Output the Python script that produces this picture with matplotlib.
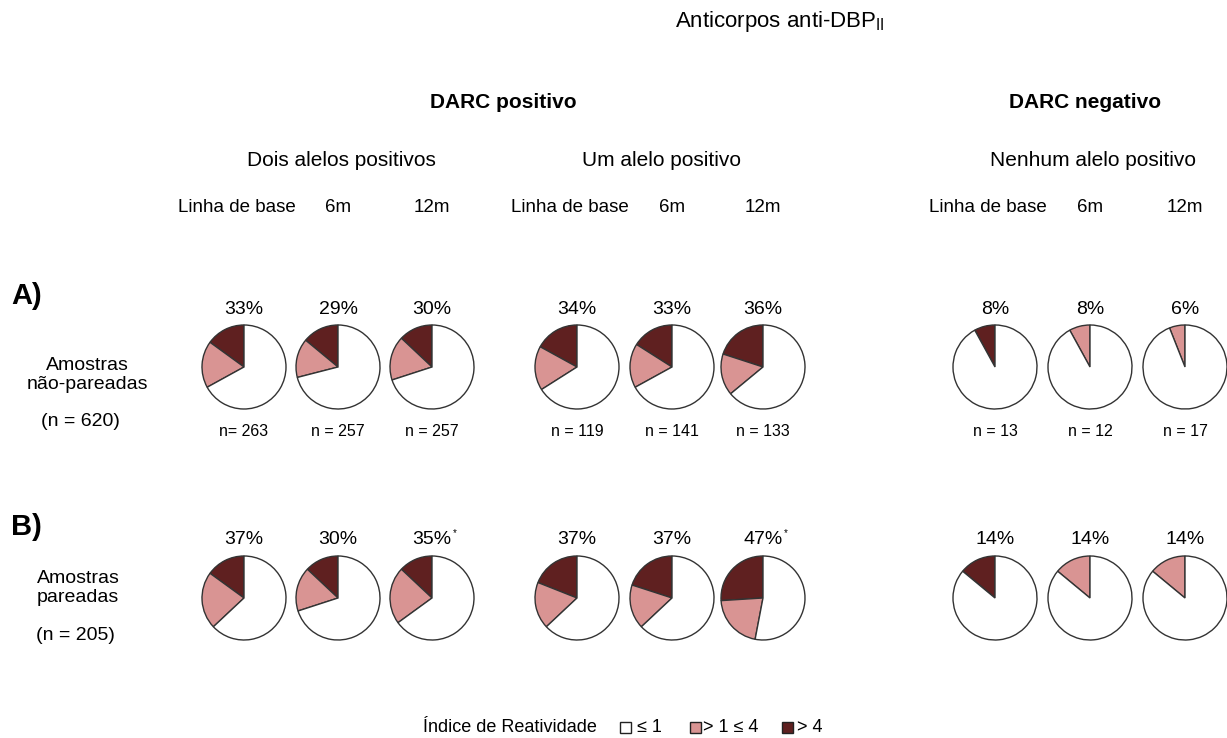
import matplotlib
matplotlib.use("Agg")
import matplotlib.pyplot as plt
from matplotlib.patches import Rectangle

plt.rcParams['font.family'] = ['Liberation Sans', 'DejaVu Sans']
plt.rcParams['mathtext.fontset'] = 'custom'
plt.rcParams['mathtext.rm'] = 'Liberation Sans'
plt.rcParams['mathtext.it'] = 'Liberation Sans'

# dados (% de amostras por categoria do indice de reatividade)
grupos = ["Dois alelos positivos", "Um alelo positivo", "Nenhum alelo positivo"]
periodos = ["Linha de base", "6m", "12m"]

escuro_a = [15, 14, 13, 17, 16, 20, 8, 0, 0]     # > 4
rosa_a = [18, 15, 17, 17, 17, 16, 0, 8, 6]       # > 1 <= 4
pct_a = ["33%", "29%", "30%", "34%", "33%", "36%", "8%", "8%", "6%"]
n_a = ["n= 263", "n = 257", "n = 257", "n = 119", "n = 141", "n = 133",
       "n = 13", "n = 12", "n = 17"]

escuro_b = [15, 13, 13, 19, 20, 26, 14, 0, 0]
rosa_b = [22, 17, 22, 18, 17, 21, 0, 14, 14]
pct_b = ["37%", "30%", "35%", "37%", "37%", "47%", "14%", "14%", "14%"]
asterisco_b = [False, False, True, False, False, True, False, False, False]

cores = ["#5f2020", "#d99493", "white"]
legenda = ["≤ 1", "> 1 ≤ 4", "> 4"]

W, H = 1227, 738
fig = plt.figure(figsize=(W / 100, H / 100), dpi=100)
ax = fig.add_axes([0, 0, 1, 1])

def Y(y):
    return H - y

pie_x = [244, 338, 432, 577, 672, 763, 995, 1090, 1185]
R = 42

def linha(escuro, rosa, yc):
    for i, x in enumerate(pie_x):
        vals = [escuro[i], rosa[i], 100 - escuro[i] - rosa[i]]
        ax.pie(vals, colors=cores, startangle=90, counterclock=True,
               center=(x, Y(yc)), radius=R,
               wedgeprops=dict(edgecolor="#333333", linewidth=1.0))

linha(escuro_a, rosa_a, 367)
linha(escuro_b, rosa_b, 598)

for i, x in enumerate(pie_x):
    ax.text(x, Y(309), pct_a[i], ha="center", va="center", fontsize=14)
    ax.text(x, Y(431), n_a[i], ha="center", va="center", fontsize=11.5)
    ax.text(x, Y(540), pct_b[i], ha="center", va="center", fontsize=14)
    if asterisco_b[i]:
        ax.text(x + 21, Y(533), "*", ha="left", va="center", fontsize=7)

# cabecalhos
ax.text(780, Y(22), r"Anticorpos anti-DBP$_{\mathrm{II}}$", ha="center", va="center", fontsize=16)
ax.text(503, Y(103), "DARC positivo", ha="center", va="center", fontsize=15, fontweight="bold")
ax.text(1085, Y(103), "DARC negativo", ha="center", va="center", fontsize=15, fontweight="bold")
for gx, g in zip([341, 662, 1093], grupos):
    ax.text(gx, Y(160), g, ha="center", va="center", fontsize=15)
for i, x in enumerate(pie_x):
    px = x
    if i % 3 == 0:
        px = x - 7
    ax.text(px, Y(207), periodos[i % 3], ha="center", va="center", fontsize=13.5)

# rotulos a esquerda
ax.text(11, Y(296), "A)", ha="left", va="center", fontsize=21, fontweight="bold")
ax.text(87, Y(375), "Amostras\nnão-pareadas", ha="center", va="center", fontsize=14, linespacing=1.1)
ax.text(80, Y(422), "(n = 620)", ha="center", va="center", fontsize=14)
ax.text(11, Y(527), "B)", ha="left", va="center", fontsize=21, fontweight="bold")
ax.text(78, Y(588), "Amostras\npareadas", ha="center", va="center", fontsize=14, linespacing=1.1)
ax.text(75, Y(636), "(n = 205)", ha="center", va="center", fontsize=14)

# legenda
ax.text(423, Y(727), "Índice de Reatividade", ha="left", va="center", fontsize=13)
for sx, tx, cor, lab in zip([620, 690, 782], [637, 703, 797], cores[::-1], legenda):
    ax.add_patch(Rectangle((sx, Y(733)), 11, 11, facecolor=cor, edgecolor="#222222", linewidth=1))
    ax.text(tx, Y(727), lab, ha="left", va="center", fontsize=13)

ax.set_xlim(0, W)
ax.set_ylim(0, H)
ax.set_aspect("equal")
ax.axis("off")

fig.savefig("out.png", dpi=100, facecolor="white")
